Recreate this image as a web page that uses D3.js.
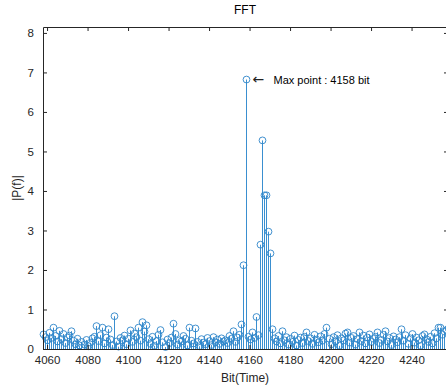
<!DOCTYPE html>
<html>
<head>
<meta charset="utf-8">
<script src="https://cdn.jsdelivr.net/npm/d3@7"></script>
<style>
  body { margin: 0; background: #fff; }
  svg { display: block; font-family: "Liberation Sans", Arial, sans-serif; }
  .stem { stroke: #3a8fd0; stroke-width: 1px; }
  .marker { fill: none; stroke: #2f86c9; stroke-width: 0.9px; }
</style>
</head>
<body>
<div id="chart"></div>
<script>
// FFT magnitude around the peak, one value per bit
const firstBit = 4058;
const magnitudes = [
  0.37, 0.30, 0.22, 0.41, 0.28, 0.54, 0.33, 0.19, 0.46, 0.25,
  0.38, 0.15, 0.29, 0.34, 0.45, 0.21, 0.12, 0.26, 0.09, 0.18,
  0.11, 0.23, 0.07, 0.16, 0.27, 0.31, 0.58, 0.20, 0.35, 0.54,
  0.14, 0.29, 0.50, 0.24, 0.10, 0.83, 0.19, 0.06, 0.28, 0.22,
  0.34, 0.12, 0.26, 0.47, 0.18, 0.39, 0.30, 0.54, 0.21, 0.68,
  0.44, 0.60, 0.25, 0.13, 0.31, 0.08, 0.20, 0.36, 0.48, 0.17,
  0.05, 0.24, 0.15, 0.29, 0.64, 0.38, 0.11, 0.22, 0.19, 0.33,
  0.26, 0.09, 0.54, 0.21, 0.14, 0.52, 0.18, 0.07, 0.25, 0.16,
  0.12, 0.28, 0.20, 0.10, 0.30, 0.17, 0.24, 0.13, 0.27, 0.19,
  0.22, 0.15, 0.33, 0.26, 0.45, 0.18, 0.29, 0.36, 0.62, 2.12,
  6.82, 0.31, 0.24, 0.42, 0.28, 0.81, 0.35, 2.64, 5.28, 3.89,
  3.89, 2.97, 2.42, 0.50, 0.27, 0.19, 0.33, 0.14, 0.45, 0.22,
  0.30, 0.11, 0.26, 0.18, 0.34, 0.09, 0.23, 0.29, 0.15, 0.31,
  0.42, 0.20, 0.27, 0.13, 0.36, 0.24, 0.17, 0.32, 0.21, 0.38,
  0.54, 0.26, 0.12, 0.30, 0.19, 0.35, 0.08, 0.27, 0.22, 0.39,
  0.42, 0.16, 0.28, 0.33, 0.11, 0.25, 0.42, 0.20, 0.34, 0.14,
  0.29, 0.37, 0.18, 0.26, 0.31, 0.42, 0.15, 0.23, 0.36, 0.45,
  0.19, 0.28, 0.10, 0.32, 0.24, 0.17, 0.30, 0.50, 0.21, 0.35,
  0.13, 0.27, 0.38, 0.16, 0.29, 0.22, 0.08, 0.33, 0.37, 0.25,
  0.18, 0.31, 0.14, 0.40, 0.27, 0.54, 0.54, 0.36, 0.44, 0.48, 0.52
];
const bits = d3.range(firstBit, firstBit + magnitudes.length);
const xTicks = [4060, 4080, 4100, 4120, 4140, 4160, 4180, 4200, 4220, 4240];
const yTicks = [0, 1, 2, 3, 4, 5, 6, 7, 8];
const maxLabel = "Max point : 4158 bit";

const width = 446, height = 389;
const margin = { top: 27, right: -2, bottom: 40, left: 43 };
const ink = "#262626";

const svg = d3.select("#chart").append("svg")
  .attr("width", width)
  .attr("height", height);

const x = d3.scaleLinear()
  .domain([4058, 4258])
  .range([margin.left, width - margin.right]);
const y = d3.scaleLinear()
  .domain([0, 8.15])
  .range([height - margin.bottom, margin.top]);

const data = bits.map((b, i) => ({ bit: b, value: magnitudes[i] }));

// stems, snapped to pixel centres so they stay crisp and blue
svg.append("g").selectAll("path")
  .data(data).enter()
  .append("path")
  .attr("class", "stem")
  .attr("d", d => {
    const px = Math.round(x(d.bit)) + 0.5;
    return `M${px},${y(0)}V${y(d.value)}`;
  });

// markers
svg.append("g").selectAll("circle")
  .data(data).enter()
  .append("circle")
  .attr("class", "marker")
  .attr("cx", d => Math.round(x(d.bit)) + 0.5)
  .attr("cy", d => y(d.value))
  .attr("r", 3.4);

// axes, ticks on both sides like matlab box
const tickLen = 4;
const axisStyle = g => {
  g.attr("font-family", null);
  g.select(".domain").attr("stroke", ink);
  g.selectAll(".tick line").attr("stroke", ink);
  g.selectAll(".tick text").attr("fill", ink).style("font-size", "11.5px");
};

svg.append("g")
  .attr("transform", `translate(0,${y(0)})`)
  .call(d3.axisBottom(x).tickValues(xTicks).tickFormat(d3.format("d"))
    .tickSize(-tickLen).tickPadding(7).tickSizeOuter(0))
  .call(axisStyle);

svg.append("g")
  .attr("transform", `translate(0,${y(8.15)})`)
  .call(d3.axisTop(x).tickValues(xTicks).tickSize(-tickLen).tickFormat("").tickSizeOuter(0))
  .call(axisStyle);

svg.append("g")
  .attr("transform", `translate(${margin.left},0)`)
  .call(d3.axisLeft(y).tickValues(yTicks).tickSize(-tickLen).tickPadding(9).tickSizeOuter(0))
  .call(axisStyle);

svg.append("g")
  .attr("transform", `translate(${width - margin.right},0)`)
  .call(d3.axisRight(y).tickValues(yTicks).tickSize(-tickLen).tickFormat("").tickSizeOuter(0))
  .call(axisStyle);

// title and labels
svg.append("text")
  .attr("x", 245).attr("y", 14)
  .attr("text-anchor", "middle")
  .attr("fill", "#000")
  .style("font-size", "12px")
  .text("FFT");

svg.append("text")
  .attr("x", 245).attr("y", 382)
  .attr("text-anchor", "middle")
  .attr("fill", ink)
  .style("font-size", "12px")
  .text("Bit(Time)");

svg.append("text")
  .attr("transform", `translate(21,${(y(0) + y(8.15)) / 2}) rotate(-90)`)
  .attr("text-anchor", "middle")
  .attr("fill", ink)
  .style("font-size", "12px")
  .text("|P(f)|");

// annotation at the max point
const peak = data.reduce((a, b) => (b.value > a.value ? b : a));
svg.append("text")
  .attr("x", x(peak.bit) + 7).attr("y", y(peak.value) + 4)
  .attr("fill", "#222")
  .style("font-size", "14px")
  .attr("font-family", "DejaVu Sans")
  .text("\u2190");
svg.append("text")
  .attr("x", x(peak.bit) + 28).attr("y", y(peak.value) + 4)
  .attr("fill", "#000")
  .style("font-size", "11px")
  .text(maxLabel);
</script>
</body>
</html>
